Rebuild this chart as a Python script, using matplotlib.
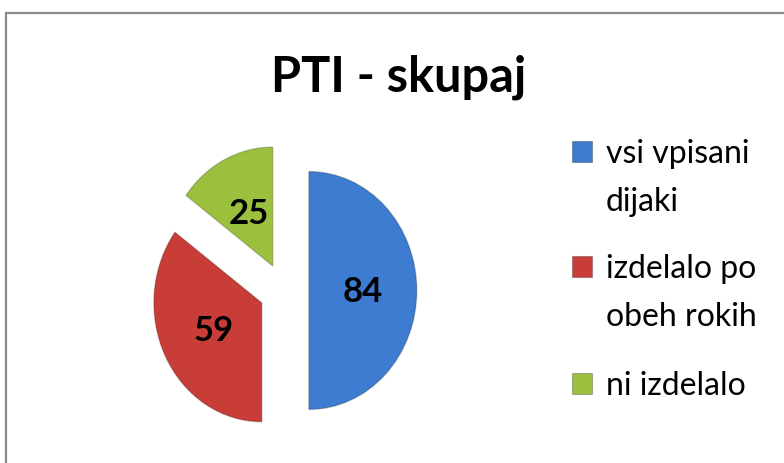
import numpy as np
import matplotlib.pyplot as plt
from matplotlib.patches import Rectangle

title = "PTI - skupaj"
labels = ["vsi vpisani\ndijaki", "izdelalo po\nobeh rokih", "ni izdelalo"]
values = [84, 59, 25]
colors = ["#3d7cd0", "#c93d38", "#9bc03e"]

plt.rcParams['font.family'] = ['Lato', 'DejaVu Sans']

W, H = 784, 464
fig = plt.figure(figsize=(W / 100, H / 100), dpi=100)
ax = fig.add_axes([0, 0, 1, 1])

total = sum(values)
wedges, texts, autotexts = ax.pie(
    values, colors=colors, startangle=90, counterclock=False,
    explode=[0.23] * len(values), pctdistance=0.5,
    autopct=lambda p: f"{p * total / 100:.0f}",
    wedgeprops=dict(linewidth=1.0, edgecolor="#00000030"),
    textprops=dict(fontsize=25, fontweight='bold', color='black'))

# pie is a bit narrower than tall in the original
cx, cy, rx, ry = 284, 291.5, 108, 119
ax.set_aspect('auto')
ax.set_xlim(-cx / rx, (W - cx) / rx)
ax.set_ylim((cy - H) / ry, cy / ry)
ax.axis('off')

fig.text(399 / W, 1 - 92 / H, title, ha='center', va='baseline',
         fontsize=35, fontweight='bold')

# legend: square next to the first line of each label
baselines = [163, 278, 395]
for lab, col, yb in zip(labels, colors, baselines):
    fig.add_artist(Rectangle((572 / W, 1 - yb / H), 20 / W, 21 / H,
                             facecolor=col, edgecolor='#00000040', lw=0.8))
    fig.text(606 / W, 1 - yb / H, lab.split("\n")[0], ha='left',
             va='baseline', fontsize=23)
    if "\n" in lab:
        fig.text(606 / W, 1 - (yb + 48) / H, lab.split("\n")[1],
                 ha='left', va='baseline', fontsize=23)

# chart border (cut off on the right and bottom)
fig.add_artist(Rectangle((6 / W, -0.1), 1.2, 1.1 - 14 / H, fill=False,
                         edgecolor='#8a8a8a', lw=1.6))

fig.savefig("out.png", dpi=100)
